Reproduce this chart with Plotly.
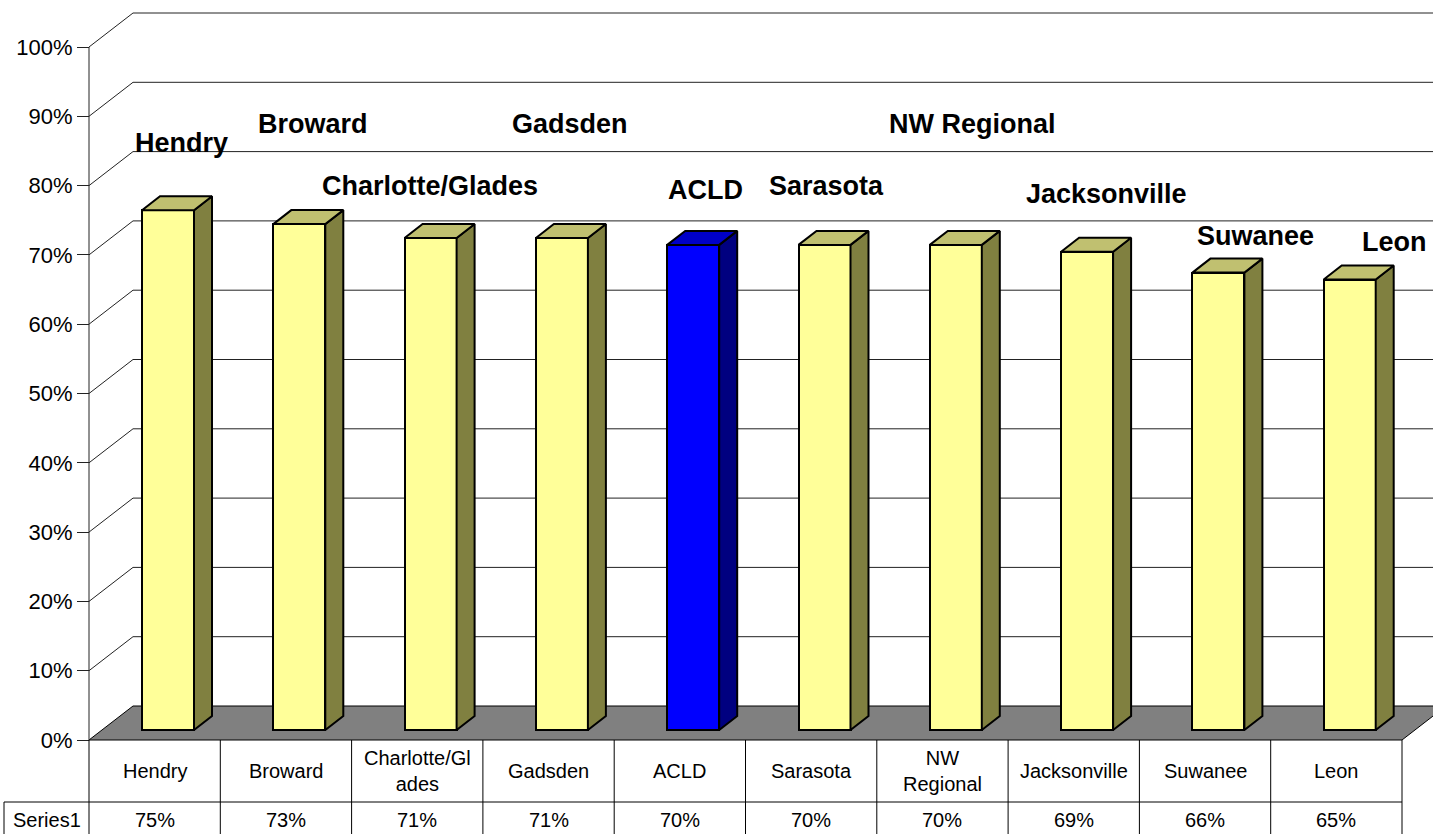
import plotly.graph_objects as go

# ---------------- data ----------------
categories = ["Hendry", "Broward", "Charlotte/Glades", "Gadsden", "ACLD",
              "Sarasota", "NW Regional", "Jacksonville", "Suwanee", "Leon"]
table_labels = ["Hendry", "Broward", "Charlotte/Gl<br>ades", "Gadsden", "ACLD",
                "Sarasota", "NW<br>Regional", "Jacksonville", "Suwanee", "Leon"]
values = [75, 73, 71, 71, 70, 70, 70, 69, 66, 65]
series_name = "Series1"
tick_values = [0, 10, 20, 30, 40, 50, 60, 70, 80, 90, 100]
tick_labels = ["0%", "10%", "20%", "30%", "40%", "50%", "60%", "70%", "80%", "90%", "100%"]

# ---------------- layout constants ----------------
W, H = 1433, 834
AX_PX = 89.0          # pixel x of value axis
CAT_PX = 131.3        # pixel width of one category
ZERO_PY = 740.0       # pixel y of 0%
PCT_PX = 6.93         # pixels per percent


def px2x(px):
    return (px - AX_PX) / CAT_PX - 0.5


def py2v(py):
    return (ZERO_PY - py) / PCT_PX


X0, X1 = px2x(0), px2x(W)
Y0, Y1 = py2v(H), py2v(0)

DEPTH_DX = 44 / CAT_PX     # full depth of the 3D box
DEPTH_DV = 34 / PCT_PX
BAR_OFF = 13.35 / CAT_PX   # bar centre shift
BAR_W = 52 / CAT_PX
BAR_BASE = 10 / PCT_PX     # bar base raised by depth position
SIDE_DX = 18 / CAT_PX
SIDE_DV = 14 / PCT_PX

front_colors = ["#FFFF99"] * len(categories)
side_colors = ["#808040"] * len(categories)
top_colors = ["#C0C070"] * len(categories)
hl = categories.index("ACLD")
front_colors[hl] = "#0000FF"
side_colors[hl] = "#000080"
top_colors[hl] = "#0000C8"

# label positions (layout, in pixel space)
label_px = [181.5, 312.5, 429.5, 570, 705, 826, 972, 1106, 1255, 1394]
label_py = [143, 124, 186, 124, 190, 186, 124, 194, 236, 242]

FONT = "Arial, Liberation Sans, sans-serif"

fig = go.Figure()

# ---------------- walls, floor, gridlines (shapes below traces) ----------------
shapes = []
left = -0.5
right = left + len(categories)
# floor
shapes.append(dict(type="path", layer="below", xref="x", yref="y",
                   path=f"M {left},0 L {right},0 L {right + DEPTH_DX},{DEPTH_DV} "
                        f"L {left + DEPTH_DX},{DEPTH_DV} Z",
                   fillcolor="#808080", line=dict(color="black", width=1)))
for t in tick_values:
    if t > 0:
        # back wall gridline
        shapes.append(dict(type="line", layer="below", xref="x", yref="y",
                           x0=left + DEPTH_DX, y0=t + DEPTH_DV, x1=X1 + 1, y1=t + DEPTH_DV,
                           line=dict(color="#222222", width=1)))
        # side wall diagonal
        shapes.append(dict(type="line", layer="below", xref="x", yref="y",
                           x0=left, y0=t, x1=left + DEPTH_DX, y1=t + DEPTH_DV,
                           line=dict(color="#222222", width=1)))
# value axis line
shapes.append(dict(type="line", layer="below", xref="x", yref="y",
                   x0=left, y0=0, x1=left, y1=tick_values[-1],
                   line=dict(color="#222222", width=1)))

# ---------------- data table ----------------
row1_bottom = py2v(802)
series_left = px2x(4)
for k in range(len(categories) + 1):
    shapes.append(dict(type="line", xref="x", yref="y",
                       x0=left + k, y0=0, x1=left + k, y1=Y0 - 1,
                       line=dict(color="black", width=1)))
shapes.append(dict(type="line", xref="x", yref="y",
                   x0=series_left, y0=row1_bottom, x1=right, y1=row1_bottom,
                   line=dict(color="black", width=1)))
shapes.append(dict(type="line", xref="x", yref="y",
                   x0=series_left, y0=row1_bottom, x1=series_left, y1=Y0 - 1,
                   line=dict(color="black", width=1)))

# ---------------- bars ----------------
xs = [i + BAR_OFF for i in range(len(categories))]
fig.add_trace(go.Bar(
    x=xs, y=values, base=[BAR_BASE] * len(values), width=BAR_W,
    marker=dict(color=front_colors, line=dict(color="black", width=2)),
    hoverinfo="skip", showlegend=False))

for i, v in enumerate(values):
    xl = xs[i] - BAR_W / 2
    xr = xs[i] + BAR_W / 2
    top = v + BAR_BASE
    # side face
    fig.add_trace(go.Scatter(
        x=[xr, xr + SIDE_DX, xr + SIDE_DX, xr, xr],
        y=[BAR_BASE, BAR_BASE + SIDE_DV, top + SIDE_DV, top, BAR_BASE],
        mode="lines", fill="toself", fillcolor=side_colors[i],
        line=dict(color="black", width=2), hoverinfo="skip", showlegend=False))
    # top face
    fig.add_trace(go.Scatter(
        x=[xl, xr, xr + SIDE_DX, xl + SIDE_DX, xl],
        y=[top, top, top + SIDE_DV, top + SIDE_DV, top],
        mode="lines", fill="toself", fillcolor=top_colors[i],
        line=dict(color="black", width=2), hoverinfo="skip", showlegend=False))

# ---------------- annotations ----------------
ann = []
for i, name in enumerate(categories):
    ann.append(dict(x=px2x(label_px[i]), y=py2v(label_py[i]), xref="x", yref="y",
                    text=f"<b>{name}</b>", showarrow=False, xanchor="center", yanchor="middle",
                    font=dict(family=FONT, size=27, color="black")))
    ann.append(dict(x=i, y=py2v(771), xref="x", yref="y", text=table_labels[i],
                    showarrow=False, xanchor="center", yanchor="middle",
                    font=dict(family=FONT, size=20, color="black")))
    ann.append(dict(x=i, y=py2v(820), xref="x", yref="y", text=f"{values[i]}%",
                    showarrow=False, xanchor="center", yanchor="middle",
                    font=dict(family=FONT, size=20, color="black")))
ann.append(dict(x=(series_left + left) / 2, y=py2v(820), xref="x", yref="y",
                text=series_name, showarrow=False, xanchor="center", yanchor="middle",
                font=dict(family=FONT, size=20, color="black")))

fig.update_layout(
    width=W, height=H, autosize=False,
    margin=dict(l=0, r=0, t=0, b=0, pad=0),
    paper_bgcolor="white", plot_bgcolor="white",
    shapes=shapes, annotations=ann, showlegend=False, bargap=0,
    xaxis=dict(range=[X0, X1], visible=False, fixedrange=True),
    yaxis=dict(range=[Y0, Y1], anchor="free", position=AX_PX / W,
               tickvals=tick_values, ticktext=tick_labels,
               ticks="outside", ticklen=12, tickwidth=1, tickcolor="#222222",
               tickfont=dict(family=FONT, size=22, color="black"),
               showgrid=False, zeroline=False, showline=False, fixedrange=True),
)

fig.write_html("out.html")
